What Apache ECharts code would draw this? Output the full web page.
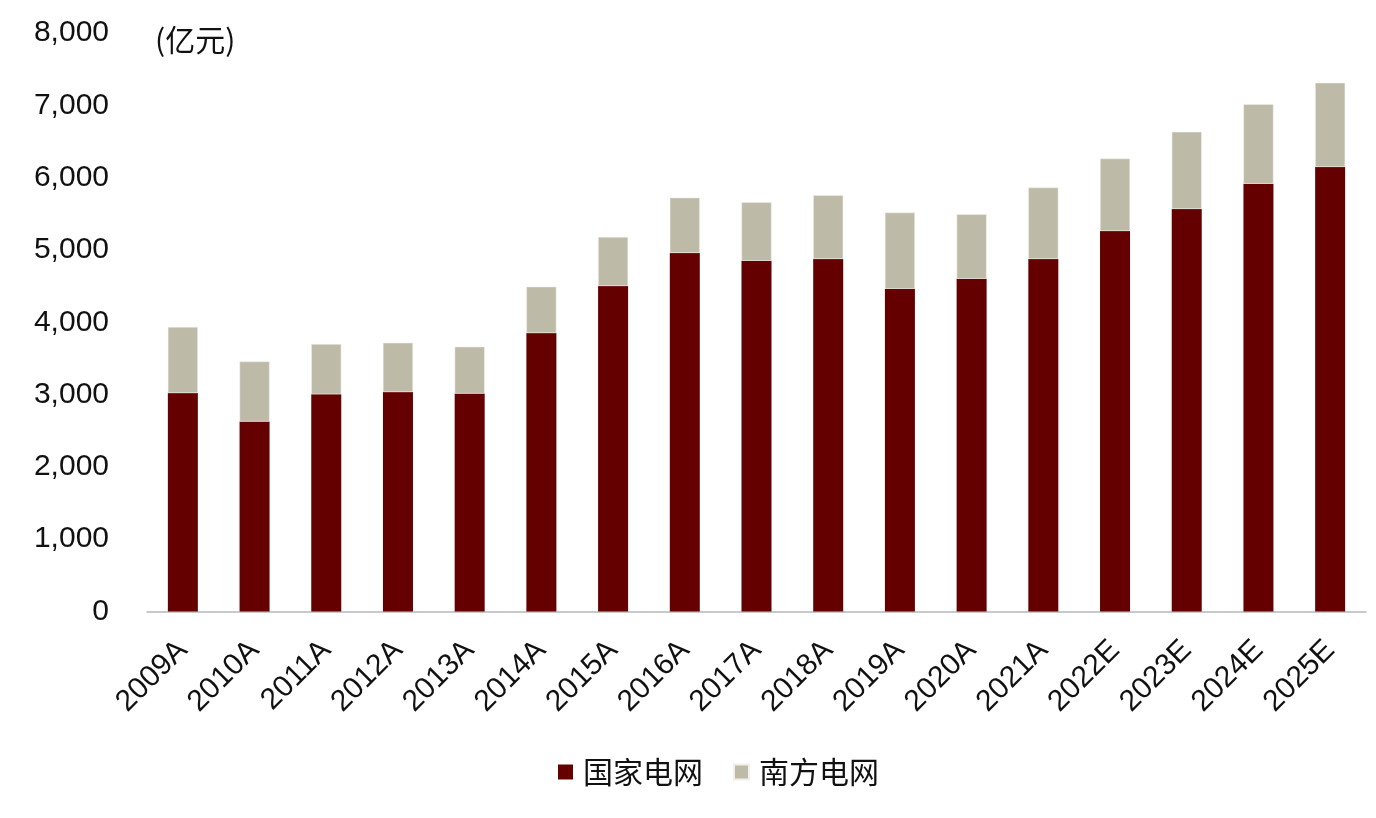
<!DOCTYPE html>
<html>
<head>
<meta charset="utf-8">
<script src="https://cdn.jsdelivr.net/npm/echarts@6/dist/echarts.min.js"></script>
<style>
  html, body { margin: 0; padding: 0; background: #fff; }
  #chart { width: 1376px; height: 818px; }
</style>
</head>
<body>
<div id="chart"></div>
<script>
// 年份
var years = ['2009A','2010A','2011A','2012A','2013A','2014A','2015A','2016A','2017A',
             '2018A','2019A','2020A','2021A','2022E','2023E','2024E','2025E'];
// 国家电网投资（亿元）
var stateGrid = [3020, 2627, 3006, 3034, 3014, 3850, 4501, 4958, 4851,
                 4875, 4464, 4602, 4875, 5262, 5567, 5917, 6148];
// 南方电网投资（亿元）
var southGrid = [914, 830, 692, 682, 647, 641, 678, 765, 807,
                 880, 1052, 890, 987, 1001, 1066, 1097, 1163];

var fontLatin = '"Liberation Sans", Arial, "Noto Sans CJK SC", sans-serif';

var chart = echarts.init(document.getElementById('chart'));
var option = {
  animation: false,
  backgroundColor: '#fff',
  color: ['#650000', '#bdbaa8'],
  grid: { left: 147, right: 10, top: 33, bottom: 206.5 },
  graphic: [{
    type: 'text',
    left: 155,
    top: 25,
    style: { text: '(亿元)', fill: '#111', font: '30px "Noto Sans CJK SC", sans-serif' }
  }],
  legend: {
    bottom: 26,
    left: 553,
    itemWidth: 15,
    itemHeight: 15,
    itemGap: 30,
    icon: 'rect',
    textStyle: {
      fontSize: 30,
      color: '#111',
      padding: [0, 0, 0, 5],
      fontFamily: '"Noto Sans CJK SC", sans-serif'
    },
    data: ['国家电网', '南方电网']
  },
  xAxis: {
    type: 'category',
    data: years,
    axisLine: { show: true, lineStyle: { color: '#b8b8b8', width: 1.5 } },
    axisTick: { show: false },
    axisLabel: {
      rotate: 45,
      interval: 0,
      margin: 34,
      color: '#111',
      fontSize: 30,
      fontFamily: fontLatin
    }
  },
  yAxis: {
    type: 'value',
    min: 0,
    max: 8000,
    interval: 1000,
    axisLine: { show: false },
    axisTick: { show: false },
    splitLine: { show: false },
    axisLabel: {
      margin: 38,
      color: '#111',
      fontSize: 30,
      fontFamily: fontLatin,
      formatter: function (v) { return v.toLocaleString('en-US'); }
    }
  },
  series: [
    {
      name: '国家电网',
      type: 'bar',
      stack: 'total',
      barWidth: 30,
      data: stateGrid
    },
    {
      name: '南方电网',
      type: 'bar',
      stack: 'total',
      barWidth: 30,
      itemStyle: { borderColor: '#f3eeea', borderWidth: 0.5 },
      data: southGrid
    }
  ]
};
chart.setOption(option);
</script>
</body>
</html>
